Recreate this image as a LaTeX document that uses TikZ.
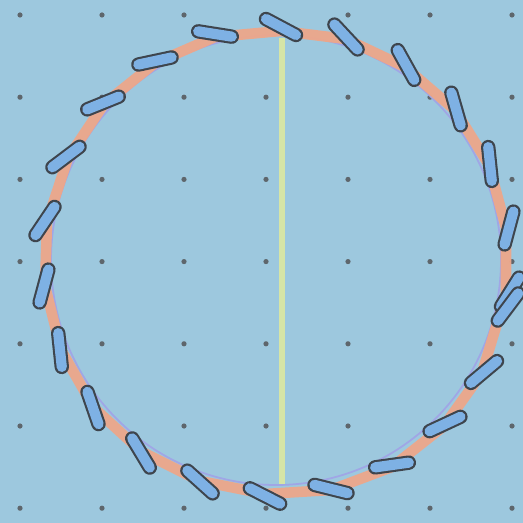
\documentclass[tikz,border=0pt]{standalone}
\usepackage{tikz}
\definecolor{pool}{HTML}{9DC8DE}
\definecolor{pin}{HTML}{5E666C}
\definecolor{band}{HTML}{EDA78A}
\definecolor{trace}{HTML}{A0A6E6}
\definecolor{axis}{HTML}{D6E5A6}
\definecolor{rodfill}{HTML}{7EB1E4}
\definecolor{rodedge}{HTML}{3E454D}

\begin{document}
\begin{tikzpicture}[
    x=0.02cm, y=-0.02cm,
    pin/.style={fill=pin},
    ring/.style={draw=band, line width=6pt, line join=round, opacity=0.95},
    guide/.style={draw=trace, line width=1pt},
    axisline/.style={draw=axis, line width=3.4pt},
    rodedge/.style={draw=rodedge, line width=8.2pt, line cap=round},
    rodbody/.style={draw=rodfill, line width=5.8pt, line cap=round},
]

% Background
\useasboundingbox (0,0) rectangle (523,523);
\fill[pool] (0,0) rectangle (523,523);

% Grid of pins
\foreach \i in {0,...,6}
  \foreach \j in {0,...,6}
    \fill[pin] (20+82*\i, 15+82.2*\j) circle (2.6);

% Faint circle trace
\draw[guide] (276,260) circle (225);

% Vertical axis
\draw[axisline] (282,38) -- (282,484);

% Orange chain through rod centres
\draw[ring] plot coordinates {
    (281,31) (346,39) (405,67) (455,110) (489,165) (506,228)
    (506,294) (482,373) (444,426) (392,467) (331,490) (265,494)
    (200,481) (142,452) (94,408) (61,350) (45,286) (47,222)
    (68,158) (104,104) (155,63) (215,37)
} -- cycle;

% Rods: centre x / centre y / angle
\foreach \x/\y/\a in {
    281/27/28, 346/37/47, 406/65/61, 456/109/74, 490/164/84,
    509/228/105, 510/292/122, 508/307/127, 484/372/140, 445/424/155,
    392/465/172, 331/489/14, 265/496/27, 200/482/42, 141/453/59,
    93/408/71, 60/350/84, 44/286/105, 45/221/124, 66/157/143,
    103/103/158, 155/61/168, 215/34/9} {
  \draw[rodedge] (\x,\y) ++(\a+180:17) -- ++(\a:34);
  \draw[rodbody] (\x,\y) ++(\a+180:17) -- ++(\a:34);
}

\end{tikzpicture}
\end{document}
